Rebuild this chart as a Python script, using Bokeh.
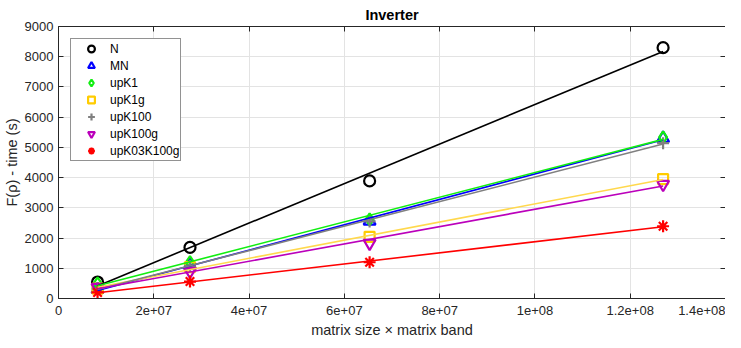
import numpy as np
from bokeh.plotting import figure
from bokeh.models import FixedTicker, LinearAxis, Range1d, Legend, LegendItem
from bokeh.embed import file_html
from bokeh.resources import INLINE

# ---- data ----
x_vals = [8.2e6, 2.76e7, 6.53e7, 1.269e8]
series_names = ["N", "MN", "upK1", "upK1g", "upK100", "upK100g", "upK03K100g"]
N = [545, 1690, 3890, 8300]
MN = [300, 1100, 2560, 5300]
upK1 = [500, 1200, 2620, 5330]
upK1g = [330, 1040, 2040, 3950]
upK100 = [330, 1080, 2550, 5140]
upK100g = [370, 900, 1830, 3780]
upK03K100g = [200, 560, 1200, 2390]
series_values = [N, MN, upK1, upK1g, upK100, upK100g, upK03K100g]

x_ticks = [0, 2e7, 4e7, 6e7, 8e7, 1e8, 1.2e8, 1.4e8]
x_tick_labels = ["0", "2e+07", "4e+07", "6e+07", "8e+07", "1e+08", "1.2e+08", "1.4e+08"]
y_ticks = [0, 1000, 2000, 3000, 4000, 5000, 6000, 7000, 8000, 9000]

# ---- styles ----
markers = ["circle", "triangle", "diamond", "square", "cross", "inverted_triangle", "asterisk"]
marker_colors = ["#000000", "#0000ff", "#11ee11", "#ffcc00", "#808080", "#bb00bb", "#ff0000"]
line_colors = ["#000000", "#0000ff", "#11ee11", "#ffd84d", "#808080", "#bb00bb", "#ff0000"]
marker_sizes = [11, 12, 12, 10, 12, 12, 12]

FONT = "Liberation Sans"
AX = "#262626"

p = figure(width=725, height=340, output_backend="svg", toolbar_location=None,
           x_range=Range1d(0, 1.4e8), y_range=Range1d(0, 9000),
           min_border_left=0, min_border_right=0, min_border_top=0, min_border_bottom=0)
p.background_fill_color = "white"
p.outline_line_color = None

p.title.text = "Inverter"
p.title.align = "center"
p.title.text_font = FONT
p.title.text_font_size = "14.5px"
p.title.text_font_style = "bold"
p.title.text_color = "#000000"
p.title.standoff = 8

# axes
xa = p.xaxis[0]
xa.ticker = FixedTicker(ticks=x_ticks)
xa.major_label_overrides = {t: l for t, l in zip(x_ticks, x_tick_labels)}
xa.axis_label = "matrix size \u00d7 matrix band"
ya = p.yaxis[0]
ya.ticker = FixedTicker(ticks=y_ticks)
ya.axis_label = "F(\u03c1) - time (s)"

for ax in (xa, ya):
    ax.axis_line_color = AX
    ax.major_tick_line_color = AX
    ax.major_tick_in = 5
    ax.major_tick_out = 0
    ax.minor_tick_line_color = None
    ax.major_label_text_font = FONT
    ax.major_label_text_font_size = "13px"
    ax.major_label_text_color = AX
    ax.axis_label_text_font = FONT
    ax.axis_label_text_font_size = "14.5px"
    ax.axis_label_text_font_style = "normal"
    ax.axis_label_text_color = AX
xa.major_label_standoff = 7
xa.axis_label_standoff = 4
ya.major_label_standoff = 5
ya.axis_label_standoff = 2

# box: top and right axes with inward ticks, no labels
for loc, ticks in (("above", x_ticks), ("right", y_ticks)):
    a = LinearAxis(ticker=FixedTicker(ticks=ticks))
    a.major_label_overrides = {t: "" for t in ticks}
    a.axis_line_color = AX
    a.major_tick_line_color = AX
    a.major_tick_in = 5
    a.major_tick_out = 0
    a.minor_tick_line_color = None
    a.major_label_standoff = 0
    p.add_layout(a, loc)

p.xgrid.ticker = FixedTicker(ticks=x_ticks)
p.ygrid.ticker = FixedTicker(ticks=y_ticks)
p.grid.grid_line_color = "#e3e3e3"
p.grid.grid_line_width = 1

# markers
items = []
for name, vals, mk, col, sz in zip(series_names, series_values, markers, marker_colors, marker_sizes):
    r = p.scatter(x_vals, vals, marker=mk, size=sz,
                  fill_color=None if mk not in ("cross", "asterisk") else col,
                  line_color=col, line_width=2.2)
    items.append(LegendItem(label=name, renderers=[r]))

# linear fit lines
xs = np.array(x_vals, dtype=float)
for vals, col in zip(series_values, line_colors):
    k, b = np.polyfit(xs, np.array(vals, dtype=float), 1)
    p.line([xs[0], xs[-1]], [k * xs[0] + b, k * xs[-1] + b], line_color=col, line_width=1.6)

legend = Legend(items=items, location="top_left")
legend.margin = 12
legend.padding = 1
legend.spacing = 0
legend.glyph_width = 38
legend.glyph_height = 17
legend.label_height = 17
legend.label_standoff = 0
legend.label_text_font = FONT
legend.label_text_font_size = "12px"
legend.label_text_color = "#000000"
legend.border_line_color = AX
legend.border_line_width = 1
legend.background_fill_color = "white"
legend.background_fill_alpha = 1
p.add_layout(legend, "center")

open("out.html", "w").write(file_html(p, INLINE))
